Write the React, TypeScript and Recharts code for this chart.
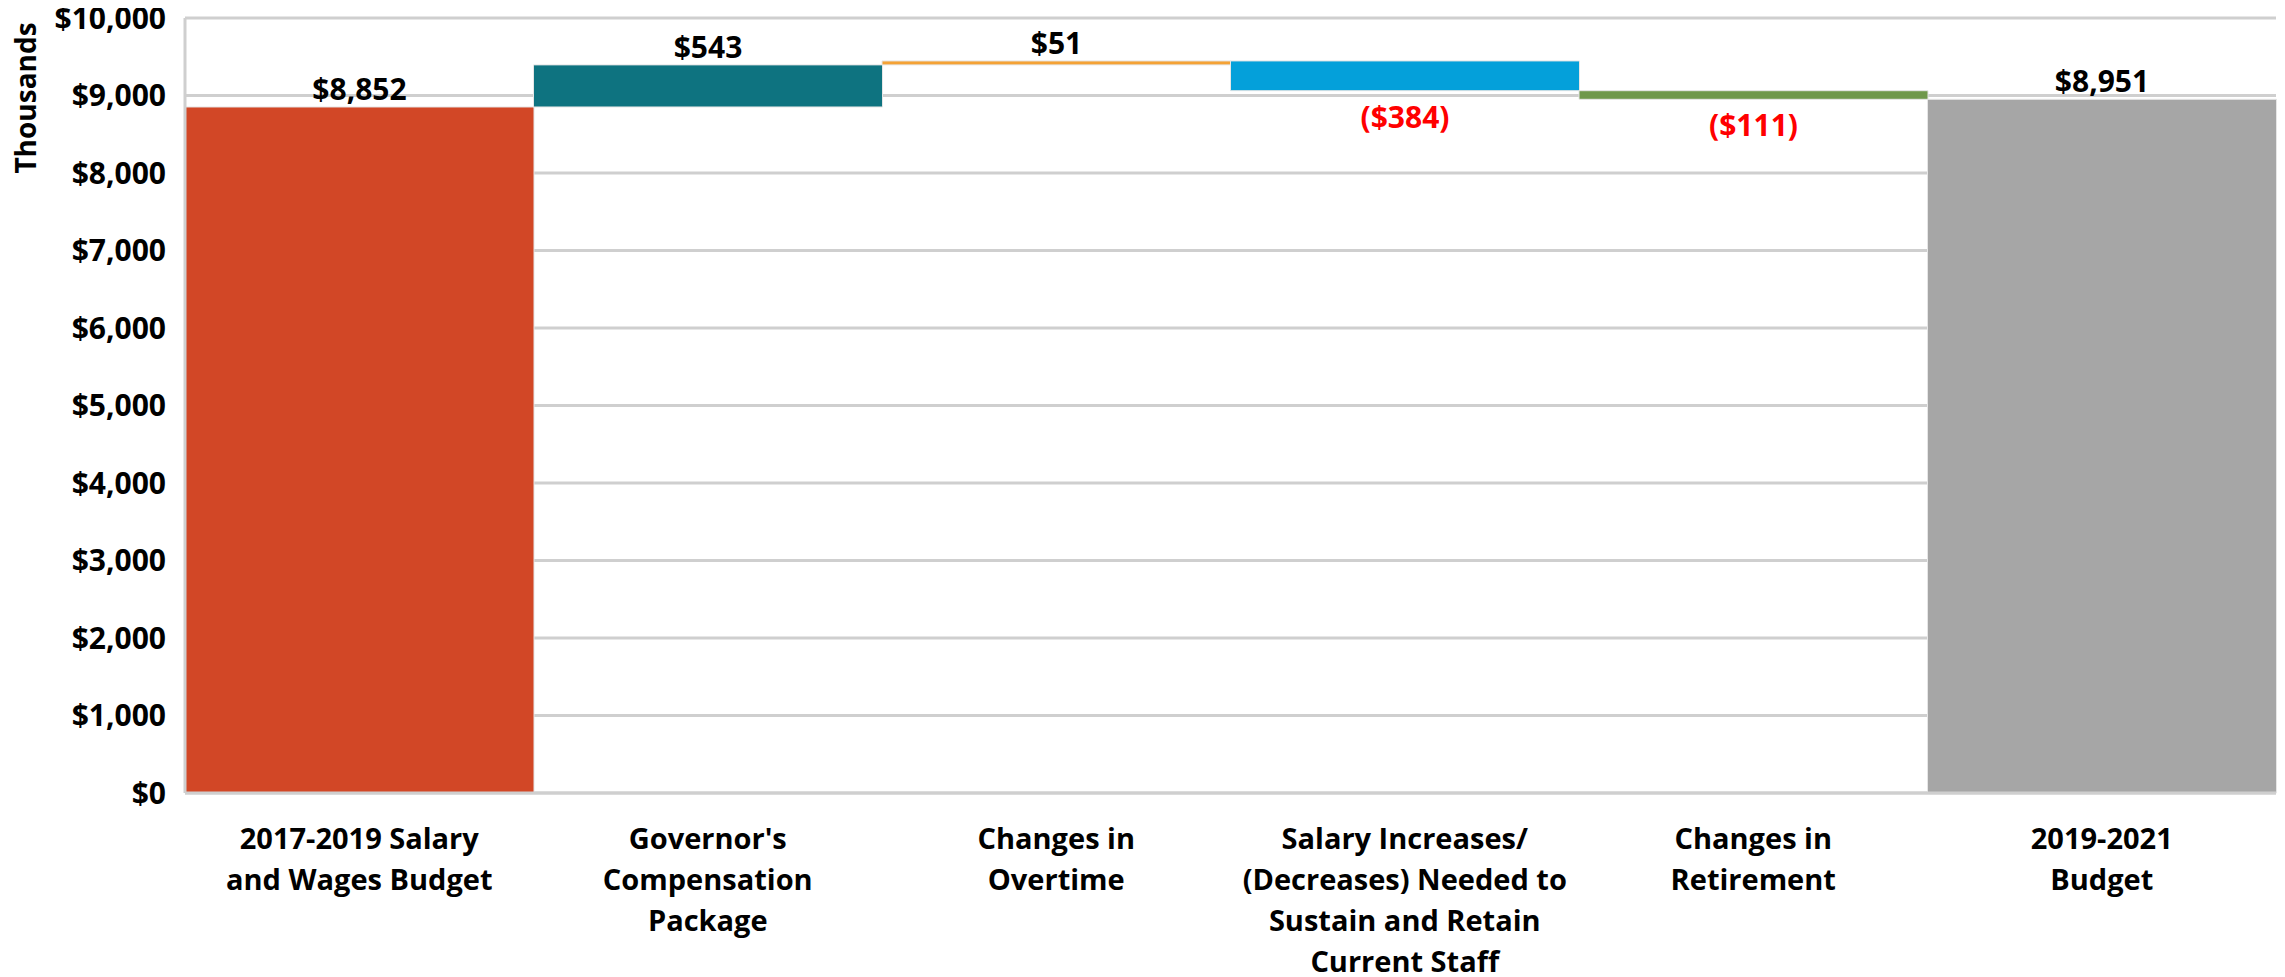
import { BarChart, Bar, XAxis, YAxis, CartesianGrid, Cell, LabelList } from "recharts";

// categories, in order (line breaks as in the original axis)
const categories = [
  "2017-2019 Salary\nand Wages Budget",
  "Governor's\nCompensation\nPackage",
  "Changes in\nOvertime",
  "Salary Increases/\n(Decreases) Needed to\nSustain and Retain\nCurrent Staff",
  "Changes in\nRetirement",
  "2019-2021\nBudget",
];

// thousands of dollars: first and last are totals, the rest are changes
const amounts = [8852, 543, 51, -384, -111, 8951];
const isTotal = [true, false, false, false, false, true];
const colors = ["#D24726", "#0E7380", "#F4A236", "#04A0DA", "#6F984B", "#A6A6A6"];

const yTicks = [0, 1000, 2000, 3000, 4000, 5000, 6000, 7000, 8000, 9000, 10000];

const FONT = "'Open Sans', 'DejaVu Sans', sans-serif";

// running total -> invisible base + visible step
let running = 0;
const data = categories.map((name, i) => {
  const v = amounts[i];
  let base = 0;
  let step = v;
  if (isTotal[i]) {
    running = v;
  } else if (v >= 0) {
    base = running;
    running += v;
  } else {
    running += v;
    base = running;
    step = -v;
  }
  return { name, base, step, amount: v };
});

const money = (v: number) => "$" + Math.abs(v).toLocaleString("en-US");

function CategoryTick(props: any) {
  const { x, y, payload } = props;
  const lines = String(payload.value).split("\n");
  return (
    <g transform={`translate(${x},${y})`}>
      {lines.map((line, i) => (
        <text
          key={i}
          x={0}
          y={48 + i * 41}
          textAnchor="middle"
          fontFamily={FONT}
          fontWeight={700}
          fontSize={29}
          fill="#000"
        >
          {line}
        </text>
      ))}
    </g>
  );
}

function StepLabel(props: any) {
  const { x, y, width, height, index } = props;
  const v = amounts[index];
  const cx = x + width / 2;
  if (v < 0) {
    return (
      <text x={cx} y={y + height + 37} textAnchor="middle" fontFamily={FONT} fontWeight={700} fontSize={30} fill="#FF0000">
        ({money(v)})
      </text>
    );
  }
  return (
    <text x={cx} y={y - 7} textAnchor="middle" fontFamily={FONT} fontWeight={700} fontSize={30} fill="#000">
      {money(v)}
    </text>
  );
}

export default function App() {
  return (
    <div style={{ width: 2285, height: 977, margin: "-8px 0 0 -8px", background: "#fff" }}>
      <BarChart
        width={2285}
        height={977}
        data={data}
        barCategoryGap={0}
        margin={{ top: 18, right: 9, bottom: 0, left: 0 }}
      >
        <CartesianGrid vertical={false} stroke="#CFCFCF" strokeWidth={3} />
        <XAxis
          dataKey="name"
          height={184}
          interval={0}
          tickLine={false}
          axisLine={{ stroke: "#CFCFCF", strokeWidth: 3 }}
          tick={<CategoryTick />}
        />
        <YAxis
          width={185}
          domain={[0, 10000]}
          ticks={yTicks}
          tickFormatter={(v: number) => "$" + v.toLocaleString("en-US")}
          tickLine={false}
          tickMargin={13}
          axisLine={{ stroke: "#CFCFCF", strokeWidth: 3 }}
          tick={{ fontFamily: FONT, fontWeight: 700, fontSize: 30, fill: "#000" }}
          label={{
            content: () => (
              <text
                x={0}
                y={0}
                transform="translate(36,98) rotate(-90)"
                textAnchor="middle"
                fontFamily={FONT}
                fontWeight={700}
                fontSize={28}
                fill="#000"
              >
                Thousands
              </text>
            ),
          }}
        />
        <Bar dataKey="base" stackId="w" fill="transparent" isAnimationActive={false} />
        <Bar dataKey="step" stackId="w" isAnimationActive={false}>
          {data.map((d, i) => (
            <Cell key={d.name} fill={colors[i]} stroke="#E6E6E6" strokeWidth={1} />
          ))}
          <LabelList dataKey="step" content={<StepLabel />} />
        </Bar>
      </BarChart>
    </div>
  );
}
